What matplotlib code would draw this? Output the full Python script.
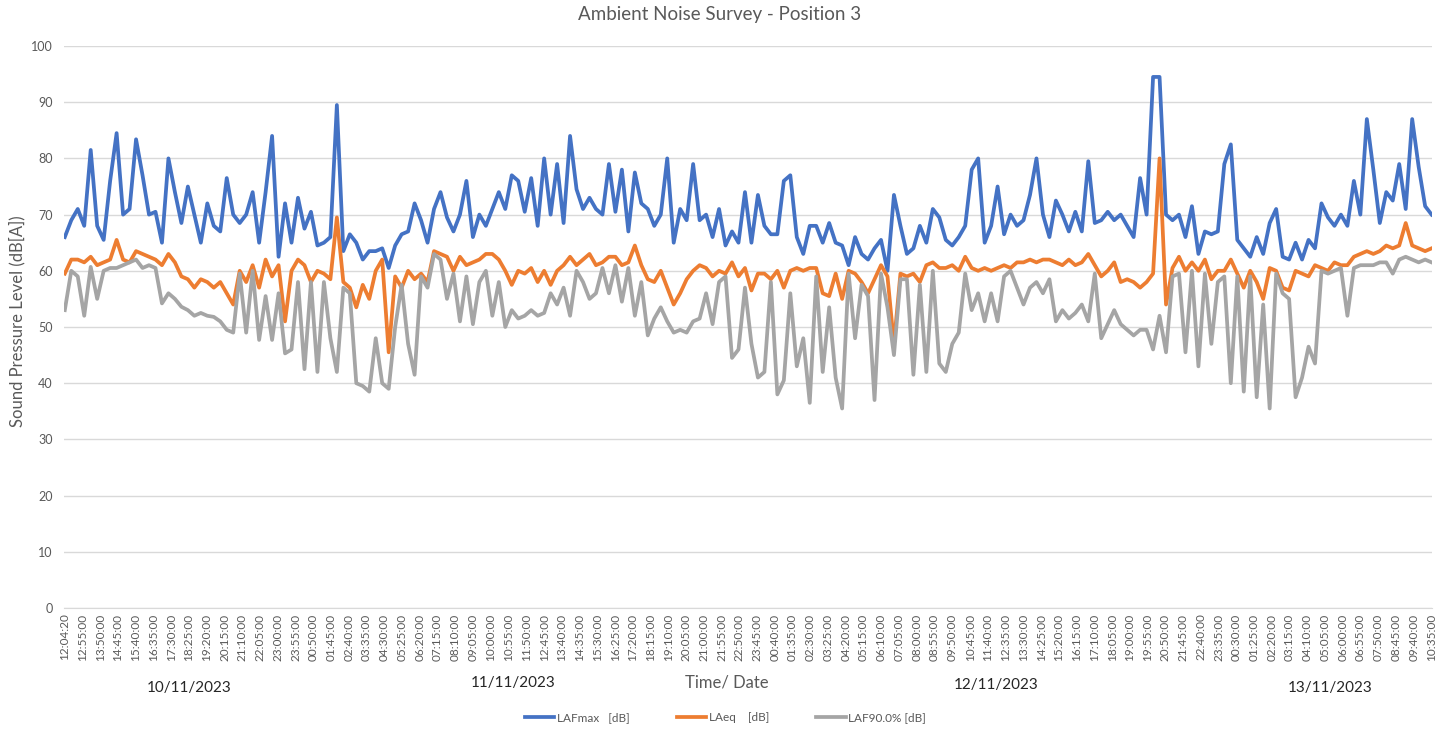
import numpy as np
import pandas as pd
import matplotlib
matplotlib.use("Agg")
import matplotlib.pyplot as plt

plt.rcParams['font.family'] = ['Lato', 'DejaVu Sans']

# 5-minute records, 12:04:20 on 10/11/2023 to 10:35:00 on 13/11/2023
N_CATEGORIES = 848
LABEL_EVERY = 11   # one time label every 55 min

# levels, one reading every ~20 min (dB)
lafmax = [
    66, 69, 71, 68, 81.5, 68, 65.5, 76, 84.5, 70, 71, 83.4, 77, 70, 70.5, 65, 80, 74, 68.5, 75,
    70, 65, 72, 68, 67, 76.5, 70, 68.5, 70, 74, 65, 74, 84, 62.5, 72,
    65, 73, 67.5, 70.5, 64.5, 65, 66, 89.5, 63.5, 66.5, 65, 62, 63.5, 63.5, 64, 60.5, 64.5, 66.5,
    67, 72, 69, 65, 71, 74, 69.5, 67, 70, 76, 66, 70, 68, 71, 74, 71, 77, 76,
    70.5, 76.5, 68, 80, 70, 79, 68.5, 84, 74.5, 71, 73, 71, 70, 79, 70.5, 78, 67, 77.5, 72, 71,
    68, 70, 80, 65, 71, 69, 79, 69, 70, 66, 71, 64.5, 67, 65, 74, 65,
    73.5, 68, 66.5, 66.5, 76, 77, 66, 63, 68, 68, 65, 68.5, 65, 64.5, 61, 66, 63, 62, 64, 65.5,
    60, 73.5, 68, 63, 64, 68, 65, 71, 69.5, 65.5, 64.5, 66, 68, 78, 80,
    65, 68, 75, 66.5, 70, 68, 69, 73.5, 80, 70, 66, 72.5, 70, 67, 70.5, 67, 79.5, 68.5, 69, 70.5,
    69, 70, 68, 66, 76.5, 70, 94.5, 94.5, 70, 69, 70, 66, 71.5, 63, 67, 66.5,
    67, 79, 82.5, 65.5, 64, 62.5, 66, 63, 68.5, 71, 62.5, 62, 65, 62, 65.5, 64, 72, 69.5, 68, 70,
    68, 76, 70, 87, 78, 68.5, 74, 72.5, 79, 71, 87, 78.5, 71.5, 70,
]
laeq = [
    59.5, 62, 62, 61.5, 62.5, 61, 61.5, 62, 65.5, 62, 61.5, 63.5, 63, 62.5, 62, 61, 63, 61.5, 59, 58.5,
    57, 58.5, 58, 57, 58, 56, 54, 60, 58, 61, 57, 62, 59, 61, 51,
    60, 62, 61, 58, 60, 59.5, 58.5, 69.5, 58, 57, 53.5, 57.5, 55, 60, 62, 45.5, 59, 57,
    60, 58.5, 59.5, 58, 63.5, 63, 62.5, 60, 62.5, 61, 61.5, 62, 63, 63, 62, 60, 57.5, 60,
    59.5, 60.5, 58, 60, 57.5, 60, 61, 62.5, 61, 62, 63, 61, 61.5, 62.5, 62.5, 61, 61.5, 64.5, 61, 58.5,
    58, 60, 57, 54, 56, 58.5, 60, 61, 60.5, 59, 60, 59.5, 61.5, 59, 60.5, 56.5,
    59.5, 59.5, 58.5, 60, 57, 60, 60.5, 60, 60.5, 60.5, 56, 55.5, 59.5, 55, 60, 59.5, 58, 56, 58.5, 61,
    59, 47, 59.5, 59, 59.5, 58, 61, 61.5, 60.5, 60.5, 61, 60, 62.5, 60.5, 60,
    60.5, 60, 60.5, 61, 60.5, 61.5, 61.5, 62, 61.5, 62, 62, 61.5, 61, 62, 61, 61.5, 63, 61, 59, 60,
    61.5, 58, 58.5, 58, 57, 58, 59.5, 80, 54, 60.5, 62.5, 60, 61.5, 60, 62, 58.5,
    60, 60, 62, 59.5, 57, 60, 58, 55, 60.5, 60, 57, 56.5, 60, 59.5, 59, 61, 60.5, 60, 61.5, 61,
    61, 62.5, 63, 63.5, 63, 63.5, 64.5, 64, 64.5, 68.5, 64.5, 64, 63.5, 64,
]
laf90 = [
    53, 60, 59, 52, 60.7, 55, 60, 60.5, 60.5, 61, 61.5, 62, 60.5, 61, 60.5, 54.2, 56, 55, 53.6, 53,
    52, 52.5, 52, 51.8, 51, 49.5, 49, 59.5, 49, 60, 47.7, 55.5, 47.7, 56, 45.3,
    46, 58, 42.5, 58, 42, 58, 48, 42, 57, 56, 40, 39.5, 38.5, 48, 40, 39, 50, 57.5,
    47, 41.5, 59, 57, 63, 62, 55, 59.5, 51, 59, 50.5, 58, 60, 52, 58, 50, 53, 51.5,
    52, 53, 52, 52.5, 56, 54, 57, 52, 60, 58, 55, 56, 60.5, 56, 61, 54.5, 60.5, 52, 58, 48.5,
    51.5, 53.5, 51, 49, 49.5, 49, 51, 51.5, 56, 50.5, 58, 59, 44.5, 46, 57, 47,
    41, 42, 58, 38, 40.5, 56, 43, 48, 36.5, 59, 42, 53.5, 41, 35.5, 59.5, 48, 57.5, 55.5, 37, 59.5,
    53.5, 45, 58.5, 58.5, 41.5, 57.5, 42, 60, 43.5, 42, 47, 49, 59.5, 53, 56,
    51, 56, 51, 59, 60, 57, 54, 57, 58, 56, 58.5, 51, 53, 51.5, 52.5, 54, 51, 59.5, 48, 50.5,
    53, 50.5, 49.5, 48.5, 49.5, 49.5, 46, 52, 45.5, 59, 59.5, 45.5, 60, 43, 59.5, 47,
    58, 59, 40, 59, 38.5, 59, 37.5, 54, 35.5, 59.5, 56, 55, 37.5, 41, 46.5, 43.5, 60, 59.5, 60, 60.5,
    52, 60.5, 61, 61, 61, 61.5, 61.5, 59.5, 62, 62.5, 62, 61.5, 62, 61.5,
]

series_names = ["LAFmax   [dB]", "LAeq    [dB]", "LAF90.0% [dB]"]
series_colors = ["#4472C4", "#ED7D31", "#A5A5A5"]

tick_labels = ["12:04:20"] + [t.strftime("%H:%M:%S") for t in
                              pd.date_range("2023-11-10 12:55", periods=77, freq="55min")]
date_labels = ["10/11/2023", "11/11/2023", "12/11/2023", "13/11/2023"]
date_label_pos = [77, 278, 577, 784]   # category under which each date sits

TEXT = "#595959"
GRID = "#D9D9D9"

fig = plt.figure(figsize=(14.51, 7.34), dpi=100)
ax = fig.add_axes([0.0441, 0.1717, 0.9431, 0.7656])

x = np.linspace(0, N_CATEGORIES - 1, len(lafmax))
for vals, name, col in zip([lafmax, laeq, laf90], series_names, series_colors):
    ax.plot(x, vals, color=col, lw=2.7, label=name, solid_joinstyle="round")

ax.set_xlim(-0.5, N_CATEGORIES - 0.5)
ax.set_ylim(0, 100)
ax.set_yticks(np.arange(0, 101, 10))
ax.set_xticks(np.arange(0, N_CATEGORIES, LABEL_EVERY))
ax.set_xticklabels(tick_labels, rotation=90, fontsize=8.5, color=TEXT)
ax.tick_params(axis="y", labelsize=9, labelcolor=TEXT, length=0, pad=8)
ax.tick_params(axis="x", length=0, pad=4)
ax.grid(axis="y", color=GRID, lw=1)
ax.set_axisbelow(True)
for s in ["top", "right", "left"]:
    ax.spines[s].set_visible(False)
ax.spines["bottom"].set_color(GRID)

ax.set_ylabel("Sound Pressure Level (dB[A])", fontsize=12, color=TEXT)
ax.yaxis.set_label_coords(-0.0285, 0.51)
fig.suptitle("Ambient Noise Survey - Position 3", x=0.496, y=0.98, va="center",
             fontsize=13.5, color=TEXT)

# date captions under the time labels
trans = ax.get_xaxis_transform()
for lab, pos, yy in zip(date_labels, date_label_pos, [-0.142, -0.133, -0.137, -0.142]):
    ax.text(pos, yy, lab, transform=trans, ha="center", va="center", fontsize=11, color="#262626")
ax.text(410, -0.133, "Time/ Date", transform=trans, ha="center", va="center", fontsize=12, color=TEXT)

fig.legend(loc="lower center", bbox_to_anchor=(0.5, 0.0), ncol=3, frameon=False,
           fontsize=8.5, labelcolor=TEXT, handlelength=2.5, handletextpad=0.2, columnspacing=4)

fig.savefig("out.png", dpi=100)
